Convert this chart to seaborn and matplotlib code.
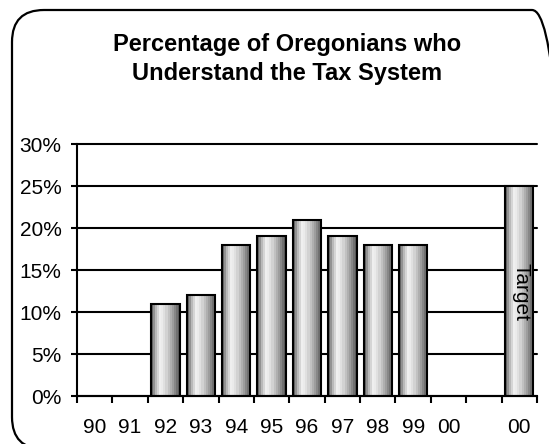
import numpy as np
import pandas as pd
import matplotlib
matplotlib.use("Agg")
import matplotlib.pyplot as plt
from matplotlib.colors import LinearSegmentedColormap
from matplotlib.patches import FancyBboxPatch
import seaborn as sns

# Survey years plus the target slot; an empty slot separates the target
slots = ["1990", "1991", "1992", "1993", "1994", "1995", "1996",
         "1997", "1998", "1999", "2000", "gap", "target"]
slot_labels = ["90", "91", "92", "93", "94", "95", "96",
               "97", "98", "99", "00", "", "00"]
pct = [np.nan, np.nan, 11, 12, 18, 19, 21, 19, 18, 18, np.nan, np.nan, 25]
y_ticks = [0, 5, 10, 15, 20, 25, 30]

sns.set_style("white")
plt.rcParams["font.family"] = ["Liberation Sans", "DejaVu Sans"]

W, H = 549, 444
fig = plt.figure(figsize=(W / 100, H / 100), dpi=100)
ax = fig.add_axes([77 / W, 1 - 396 / H, (537 - 77) / W, (396 - 144) / H])

df = pd.DataFrame({"slot": slots, "pct": pct}).dropna()
sns.barplot(data=df, x="slot", y="pct", order=slots, color="white",
            width=0.8, edgecolor="black", linewidth=1.5, ax=ax, zorder=2)

# Cylinder-style shading across each bar
shade = LinearSegmentedColormap.from_list(
    "cyl",
    [(0.0, (0.40,) * 3), (0.12, (0.68,) * 3), (0.32, (0.96,) * 3),
     (0.50, (0.86,) * 3), (0.75, (0.64,) * 3), (1.0, (0.36,) * 3)])
grad = np.linspace(0, 1, 14)[np.newaxis, :]
for bar in ax.patches:
    x0, y0 = bar.get_x(), bar.get_y()
    w, h = bar.get_width(), bar.get_height()
    im = ax.imshow(grad, cmap=shade, extent=[x0, x0 + w, y0, y0 + h],
                   aspect="auto", zorder=2.5, vmin=0, vmax=1,
                   interpolation="nearest")
    im.set_clip_path(bar)
    bar.set_facecolor("none")
    bar.set_zorder(3)

ax.set_xlim(-0.5, len(slots) - 0.5)
ax.set_ylim(0, 30)

# Horizontal grid drawn in black behind the bars
ax.set_axisbelow(True)
ax.set_yticks(y_ticks)
ax.set_yticklabels([f"{v}%" for v in y_ticks])
ax.yaxis.grid(True, color="black", linewidth=1.5)
for gl in ax.get_ygridlines():
    gl.set_clip_on(False)
ax.tick_params(axis="y", length=4, width=1.5, color="black", pad=7,
               labelsize=15, left=True, labelcolor="black")

# Tick marks sit between categories; labels sit under each category
ax.set_xticks(np.arange(-0.5, len(slots)), minor=False)
ax.set_xticklabels([""] * (len(slots) + 1))
ax.set_xticks(np.arange(len(slots)), minor=True)
ax.set_xticklabels(slot_labels, minor=True)
ax.tick_params(axis="x", which="major", length=5, width=1.5,
               color="black", bottom=True)
ax.tick_params(axis="x", which="minor", length=0, pad=16, labelsize=15,
               labelcolor="black")

ax.set_xlabel("")
ax.set_ylabel("")
for side in ["top", "right"]:
    ax.spines[side].set_visible(False)
for side in ["left", "bottom"]:
    ax.spines[side].set_color("black")
    ax.spines[side].set_linewidth(1.5)

ax.text(12.05, 12.4, "Target", rotation=-90, ha="center", va="center",
        fontsize=15, color="black", zorder=4)

fig.text(287 / W, 1 - 59 / H,
         "Percentage of Oregonians who\nUnderstand the Tax System",
         ha="center", va="center", fontsize=17, fontweight="bold",
         linespacing=1.35, color="black")

# Rounded frame around the whole chart; its right and bottom sides run
# past the canvas edge, leaving only the top-right arc in view
top_y = H - 10
frame = FancyBboxPatch((12, -5), 552, top_y + 5,
                       boxstyle="round,pad=0,rounding_size=32",
                       transform=None, fill=False, edgecolor="black",
                       linewidth=1.6, clip_on=False)
fig.patches.append(frame)

fig.savefig("out.png", dpi=100)
